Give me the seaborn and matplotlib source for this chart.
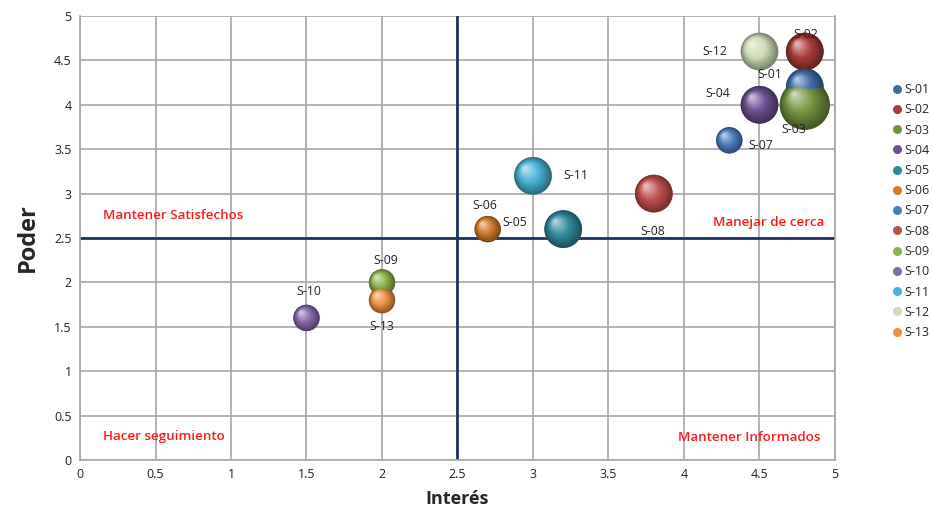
import numpy as np
import pandas as pd
import matplotlib
matplotlib.use("Agg")
import matplotlib.pyplot as plt
import matplotlib.transforms as mtransforms
from matplotlib.colors import to_rgb
from matplotlib.lines import Line2D
import seaborn as sns

# ---- data ----
stakeholders = ["S-01", "S-02", "S-03", "S-04", "S-05", "S-06", "S-07",
                "S-08", "S-09", "S-10", "S-11", "S-12", "S-13"]
interes = [4.8, 4.8, 4.8, 4.5, 3.2, 2.7, 4.3, 3.8, 2.0, 1.5, 3.0, 4.5, 2.0]
poder = [4.2, 4.6, 4.0, 4.0, 2.6, 2.6, 3.6, 3.0, 2.0, 1.6, 3.2, 4.6, 1.8]
peso = [4, 4, 7, 4, 4, 2, 2, 4, 2, 2, 4, 4, 2]
colores = ["#3E6EA9", "#A83B38", "#72923B", "#6B5090", "#2F8A9F", "#D27A2C",
           "#4A7FC0", "#C0504D", "#8DB44A", "#8767AE", "#49B2D4", "#CCDCB4",
           "#EE9140"]
# label offsets (points) relative to bubble centre
lab_dx = [-25, 1, -8, -30, -35, -2, 23, -1, 3, 2, 31, -32, 0]
lab_dy = [9, 12, -18, 8, 5, 17, -4, -27, 16, 19, 0, 0, -19]
quad_text = ["Mantener Satisfechos", "Hacer seguimiento", "Manejar de cerca", "Mantener Informados"]
quad_x = [0.15, 0.15, 4.56, 4.43]
quad_y = [2.75, 0.27, 2.68, 0.25]
quad_ha = ["left", "left", "center", "center"]
ticks = [0, 0.5, 1, 1.5, 2, 2.5, 3, 3.5, 4, 4.5, 5]

df = pd.DataFrame({"S": stakeholders, "Interés": interes, "Poder": poder, "peso": peso})

sns.set_style("white")
plt.rcParams["font.family"] = ["Open Sans", "DejaVu Sans"]

fig = plt.figure(figsize=(9.33, 5.16), dpi=100)
ax = fig.add_axes([80 / 933, 1 - 460 / 516, 755 / 933, 444 / 516])

pal = dict(zip(stakeholders, colores))
smin, smax = 360, 1300
sns.scatterplot(data=df, x="Interés", y="Poder", hue="S", size="peso",
                sizes=(smin, smax), palette=pal, legend=False, ax=ax,
                edgecolor="none", linewidth=0, zorder=3)

# 3D shading layers
pmin, pmax = min(peso), max(peso)
for xi, yi, pi, c in zip(interes, poder, peso, colores):
    s = smin + (pi - pmin) / (pmax - pmin) * (smax - smin)
    r = np.sqrt(s) / 2
    base = np.array(to_rgb(c))
    dark = base * 0.6
    light = base + (1 - base) * 0.65
    n = 14
    for k in range(n):
        f = 1 - k / n
        t = k / (n - 1)
        if t < 0.45:
            u = t / 0.45
            col = dark * (1 - u) + base * u
        else:
            u = (t - 0.45) / 0.55
            col = base * (1 - u) + light * u
        off = (1 - f) * r * 0.45
        tr = ax.transData + mtransforms.ScaledTranslation(-off / 72, off / 72, fig.dpi_scale_trans)
        ax.scatter([xi], [yi], s=s * f * f, color=col, edgecolor="none",
                   transform=tr, zorder=4 + k * 0.01)

for name, xi, yi, dx, dy in zip(stakeholders, interes, poder, lab_dx, lab_dy):
    ax.annotate(name, (xi, yi), xytext=(dx, dy), textcoords="offset points",
                ha="center", va="center", fontsize=8.8, color="#222222", zorder=6)

for t, x, y, ha in zip(quad_text, quad_x, quad_y, quad_ha):
    ax.text(x, y, t, color="#FF1A1A", fontsize=9.6, fontweight="semibold",
            ha=ha, va="center", zorder=6)

ax.axvline(2.5, color="#1F3461", lw=2, zorder=2)
ax.axhline(2.5, color="#1F3461", lw=2, zorder=2)

ax.set_xlim(0, 5)
ax.set_ylim(0, 5)
ax.set_xticks(ticks)
ax.set_yticks(ticks)
ax.set_xticklabels([f"{v:g}" for v in ticks], fontsize=9, color="#222222")
ax.set_yticklabels([f"{v:g}" for v in ticks], fontsize=9, color="#222222")
ax.tick_params(length=0, pad=6)
ax.grid(True, color="#A6A6A6", lw=1.2, zorder=0)
ax.set_axisbelow(True)
for side in ["left", "bottom", "right"]:
    ax.spines[side].set_color("#A6A6A6")
    ax.spines[side].set_linewidth(1.2)
ax.spines["top"].set_visible(False)

ax.set_xlabel("Interés", fontsize=13, fontweight="bold", labelpad=6)
ax.set_ylabel("Poder", fontsize=17, fontweight="bold", labelpad=10)

handles = [Line2D([0], [0], marker="o", linestyle="none", markersize=6.5,
                  markerfacecolor=c, markeredgecolor="none") for c in colores]
fig.legend(handles, stakeholders, loc="upper left", bbox_to_anchor=(886 / 933, 1 - 78 / 516),
           frameon=False, fontsize=9, handletextpad=0.05, labelspacing=0.58,
           borderaxespad=0, handlelength=1)

fig.savefig("out.png", dpi=100)
